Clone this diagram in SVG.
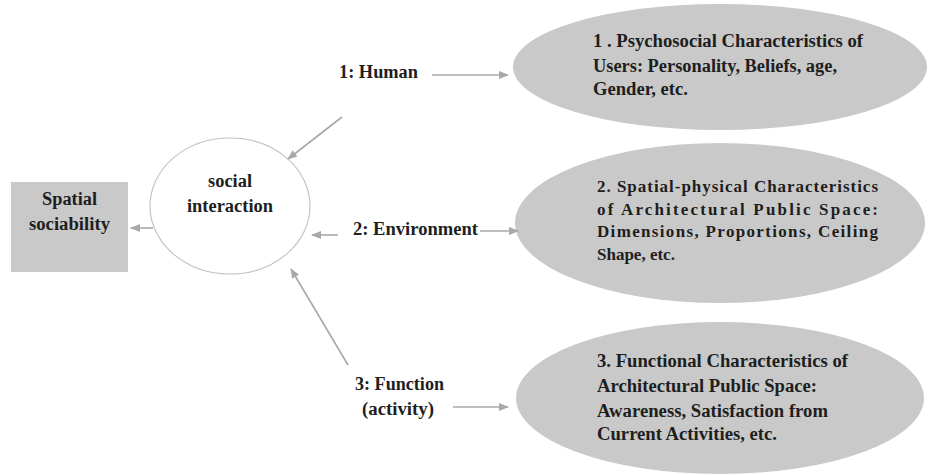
<svg xmlns="http://www.w3.org/2000/svg" width="946" height="475" viewBox="0 0 946 475">
<style>
text{font-family:"Liberation Serif","Times New Roman",serif;font-weight:bold;font-size:18px;fill:#1e1e1e}
.s17{font-size:17px}
.gray{fill:#c9c9c9}
.c{stroke:#a8a8a8;stroke-width:1.6;fill:none;marker-end:url(#ah)}
</style>
<defs>
<marker id="ah" markerWidth="10" markerHeight="8" refX="9" refY="4" orient="auto" markerUnits="userSpaceOnUse">
<path d="M0,0 L10,4 L0,8 z" fill="#a8a8a8"/>
</marker>
</defs>
<rect width="946" height="475" fill="#fff"/>
<g id="spatial-sociability">
<rect x="11" y="182" width="117" height="90" class="gray"/>
<text x="42" y="205" textLength="55" lengthAdjust="spacingAndGlyphs">Spatial</text>
<text x="29" y="230" textLength="81" lengthAdjust="spacingAndGlyphs">sociability</text>
</g>
<g id="social-interaction">
<ellipse cx="230" cy="206" rx="80" ry="68" fill="#fff" stroke="#c4c4c4" stroke-width="1.2"/>
<text x="208" y="187" textLength="44" lengthAdjust="spacingAndGlyphs">social</text>
<text x="187" y="212" textLength="86" lengthAdjust="spacingAndGlyphs">interaction</text>
</g>
<g id="human">
<text x="339" y="78" textLength="79" lengthAdjust="spacingAndGlyphs">1: Human</text>
</g>
<g id="environment">
<text x="353" y="235" textLength="125" lengthAdjust="spacingAndGlyphs">2: Environment</text>
</g>
<g id="function">
<text x="355" y="390" textLength="89" lengthAdjust="spacingAndGlyphs">3: Function</text>
<text x="362" y="415" textLength="72" lengthAdjust="spacingAndGlyphs">(activity)</text>
</g>
<g id="psychosocial">
<ellipse cx="720" cy="67" rx="207" ry="63" class="gray"/>
<text x="593" y="47" textLength="270" lengthAdjust="spacingAndGlyphs">1 . Psychosocial Characteristics of</text>
<text x="593" y="72" textLength="244" lengthAdjust="spacingAndGlyphs">Users: Personality, Beliefs, age,</text>
<text x="593" y="95" textLength="95" lengthAdjust="spacingAndGlyphs">Gender, etc.</text>
</g>
<g id="spatial-physical">
<ellipse cx="720" cy="223" rx="205" ry="80" class="gray"/>
<text class="s17" x="597" y="192" textLength="281" lengthAdjust="spacing">2. Spatial-physical Characteristics</text>
<text class="s17" x="597" y="215" textLength="281" lengthAdjust="spacing">of Architectural Public Space:</text>
<text class="s17" x="597" y="237" textLength="281" lengthAdjust="spacing">Dimensions, Proportions, Ceiling</text>
<text class="s17" x="597" y="260">Shape, etc.</text>
</g>
<g id="functional">
<ellipse cx="720" cy="398" rx="204" ry="76" class="gray"/>
<text x="597" y="367" textLength="251" lengthAdjust="spacingAndGlyphs">3. Functional Characteristics of</text>
<text x="597" y="392" textLength="220" lengthAdjust="spacingAndGlyphs">Architectural Public Space:</text>
<text x="597" y="417" textLength="231" lengthAdjust="spacingAndGlyphs">Awareness, Satisfaction from</text>
<text x="597" y="440" textLength="180" lengthAdjust="spacingAndGlyphs">Current Activities, etc.</text>
</g>
<g id="connectors">
<line x1="153" y1="228" x2="131" y2="228" class="c"/>
<line x1="432" y1="75" x2="508" y2="75" class="c"/>
<line x1="342" y1="117" x2="288" y2="159" class="c"/>
<line x1="338" y1="235" x2="312" y2="235" class="c"/>
<line x1="480" y1="231" x2="518" y2="231" class="c"/>
<line x1="453" y1="407" x2="508" y2="407" class="c"/>
<line x1="348" y1="365" x2="291" y2="269" class="c"/>
</g>
</svg>
